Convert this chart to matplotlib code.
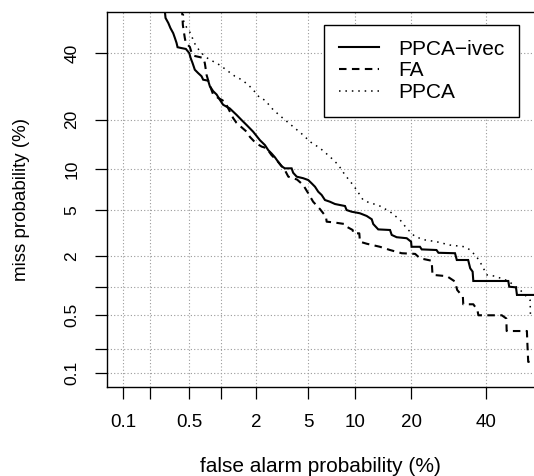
import math
import numpy as np
import matplotlib
matplotlib.use("Agg")
import matplotlib.pyplot as plt

# ---------------- data (percent) ----------------
tick_values = [0.1, 0.2, 0.5, 1, 2, 5, 10, 20, 40]
x_tick_labels = ["0.1", "", "0.5", "", "2", "5", "10", "20", "40"]
y_tick_labels = ["0.1", "", "0.5", "", "2", "5", "10", "20", "40"]

series_names = ["PPCA\u2212ivec", "FA", "PPCA"]

ppca_ivec_fa = [0.283, 0.29, 0.31, 0.326, 0.348, 0.362, 0.376, 0.385, 0.422, 0.466,
                0.503, 0.519, 0.542, 0.570, 0.614, 0.661, 0.685, 0.763, 0.791, 0.849,
                0.914, 0.977, 1.047, 1.20, 1.376, 1.52, 1.676, 1.90, 2.16, 2.37,
                2.52, 2.67, 2.84, 3.01, 3.19, 3.38, 3.80, 3.90, 4.14, 4.61,
                5.0, 5.28, 5.57, 5.86, 6.18, 6.50, 7.01, 7.55, 8.11, 8.73,
                8.93, 9.58, 10.73, 11.74, 12.53, 12.78, 13.61, 15.72, 16.04, 17.0,
                19.06, 20.0, 20.1, 22.0, 22.4, 26.0, 26.5, 30.9, 31.4, 34.6,
                35.2, 35.9, 36.1, 46.7, 47.0, 49.1, 49.4, 54.7]
ppca_ivec_miss = [56.0, 52.4, 50.6, 48.8, 47.0, 45.3, 43.6, 42.1, 41.8, 41.5,
                  40.1, 38.4, 36.7, 34.5, 33.4, 32.4, 31.3, 31.0, 29.3, 27.8,
                  26.8, 25.3, 23.9, 22.9, 21.2, 19.9, 18.7, 17.15, 15.3, 14.3,
                  13.3, 12.7, 12.0, 11.2, 10.5, 10.15, 10.15, 9.47, 8.90, 8.68,
                  8.43, 7.99, 7.55, 6.94, 6.56, 6.01, 5.83, 5.60, 5.50, 5.40,
                  5.02, 4.87, 4.73, 4.50, 4.23, 3.86, 3.48, 3.44, 3.12, 2.98,
                  2.92, 2.72, 2.45, 2.45, 2.32, 2.29, 2.16, 2.14, 1.85, 1.85,
                  1.54, 1.43, 1.155, 1.155, 1.01, 0.995, 0.83, 0.83]

fa_fa = [0.426, 0.435, 0.455, 0.466, 0.51, 0.528, 0.55, 0.637, 0.685, 0.71,
         0.738, 0.776, 0.845, 0.944, 1.014, 1.087, 1.284, 1.376, 1.676, 1.786,
         2.0, 2.23, 2.44, 2.67, 3.01, 3.38, 3.59, 4.16, 4.61, 5.0,
         5.41, 6.02, 6.60, 6.67, 7.37, 8.73, 8.93, 9.72, 9.80, 10.64,
         10.73, 11.74, 13.9, 15.72, 18.0, 20.9, 22.0, 24.8, 25.0, 28.7,
         30.9, 31.5, 33.1, 33.2, 36.1, 37.3, 37.6, 44.7, 46.1, 46.2,
         52.5, 52.6, 52.9, 54.7]
fa_miss = [56.0, 49.9, 45.3, 43.6, 42.2, 40.4, 39.2, 38.7, 38.4, 36.7,
           32.8, 30.3, 27.0, 25.8, 25.3, 24.7, 20.4, 19.2, 17.15, 16.0,
           14.7, 14.0, 13.7, 12.4, 11.2, 9.9, 8.9, 8.5, 7.77, 6.76,
           5.83, 5.11, 4.44, 4.04, 3.99, 3.86, 3.67, 3.44, 3.22, 3.22,
           2.72, 2.61, 2.45, 2.29, 2.14, 2.11, 1.92, 1.82, 1.33, 1.29,
           1.14, 0.935, 0.795, 0.66, 0.66, 0.572, 0.50, 0.50, 0.46, 0.331,
           0.331, 0.26, 0.14, 0.14]

ppca_fa = [0.435, 0.445, 0.491, 0.53, 0.55, 0.592, 0.637, 0.71, 0.791, 0.914,
           1.014, 1.16, 1.33, 1.52, 1.73, 1.90, 2.16, 2.37, 2.76, 3.29,
           3.90, 4.61, 5.14, 6.02, 7.01, 7.93, 8.73, 9.58, 10.26, 11.2,
           12.25, 13.57, 15.72, 17.7, 19.06, 20.9, 23.2, 26.0, 29.5, 33.7,
           35.2, 37.1, 38.6, 40.1, 42.6, 46.7, 50.4, 53.5, 53.6]
ppca_miss = [56.0, 50.6, 48.2, 46.5, 44.2, 42.4, 40.7, 39.0, 37.8, 36.7,
             35.6, 34.0, 32.4, 31.3, 29.7, 28.2, 25.8, 25.2, 22.5, 20.3,
             18.3, 16.4, 15.0, 13.7, 12.1, 10.7, 9.15, 8.0, 7.15, 6.01,
             5.7, 5.5, 4.87, 4.17, 3.55, 3.01, 2.82, 2.72, 2.54, 2.45,
             2.29, 1.98, 1.66, 1.33, 1.29, 1.155, 0.935, 0.73, 0.50]

x_limits = (0.0645, 54.7)
y_limits = (0.0666, 54.6)

# ---------------- normal deviate (probit) scale ----------------
_a = [-3.969683028665376e+01, 2.209460984245205e+02, -2.759285104469687e+02,
      1.383577518672690e+02, -3.066479806614716e+01, 2.506628277459239e+00]
_b = [-5.447609879822406e+01, 1.615858368580409e+02, -1.556989798598866e+02,
      6.680131188771972e+01, -1.328068155288572e+01]
_c = [-7.784894002430293e-03, -3.223964580411365e-01, -2.400758277161838e+00,
      -2.549671627481868e+00, 4.374664141464968e+00, 2.938163982698783e+00]
_d = [7.784695709041462e-03, 3.224671290700398e-01, 2.445134137142996e+00,
      3.754408661907416e+00]
_erf = np.vectorize(math.erf, otypes=[float])


def _norm_cdf(z):
    z = np.asarray(z, dtype=float)
    if z.size == 0:
        return z.copy()
    return 0.5 * (1.0 + _erf(z / math.sqrt(2.0)))


def _norm_ppf(p):
    p = np.clip(np.asarray(p, dtype=float), 1e-12, 1 - 1e-12)
    if p.size == 0:
        return p.copy()
    scalar = p.ndim == 0
    p = np.atleast_1d(p)
    out = np.empty_like(p)
    plow = 0.02425
    lo = p < plow
    hi = p > 1 - plow
    mid = ~(lo | hi)
    q = np.sqrt(-2 * np.log(p[lo]))
    out[lo] = (((((_c[0]*q+_c[1])*q+_c[2])*q+_c[3])*q+_c[4])*q+_c[5]) / \
              ((((_d[0]*q+_d[1])*q+_d[2])*q+_d[3])*q+1)
    q = np.sqrt(-2 * np.log(1 - p[hi]))
    out[hi] = -(((((_c[0]*q+_c[1])*q+_c[2])*q+_c[3])*q+_c[4])*q+_c[5]) / \
              ((((_d[0]*q+_d[1])*q+_d[2])*q+_d[3])*q+1)
    q = p[mid] - 0.5
    r = q * q
    out[mid] = (((((_a[0]*r+_a[1])*r+_a[2])*r+_a[3])*r+_a[4])*r+_a[5])*q / \
               (((((_b[0]*r+_b[1])*r+_b[2])*r+_b[3])*r+_b[4])*r+1)
    e = _norm_cdf(out) - p
    u = e * math.sqrt(2 * math.pi) * np.exp(out * out / 2)
    out = out - u / (1 + out * u / 2)
    return out[0] if scalar else out


def fwd(v):
    return _norm_ppf(np.asarray(v, dtype=float) / 100.0)


def inv(z):
    return 100.0 * _norm_cdf(z)


# ---------------- figure ----------------
plt.rcParams["font.family"] = ["Liberation Sans", "DejaVu Sans"]

W, H = 534, 476
fig = plt.figure(figsize=(W / 100, H / 100), dpi=100)
left, right, top, bottom = 106.7, 534.0, 11.7, 386.7
ax = fig.add_axes([left / W, 1 - bottom / H, (right - left) / W, (bottom - top) / H])

ax.set_xscale("function", functions=(fwd, inv))
ax.set_yscale("function", functions=(fwd, inv))

ax.plot(ppca_ivec_fa, ppca_ivec_miss, color="black", lw=1.5, linestyle="-",
        label=series_names[0], solid_joinstyle="miter")
ax.plot(fa_fa, fa_miss, color="black", lw=1.5, linestyle=(0, (3.6, 2.6)),
        label=series_names[1])
ax.plot(ppca_fa, ppca_miss, color="black", lw=1.1, linestyle=(0, (1, 3.2)),
        label=series_names[2])

ax.set_xlim(*x_limits)
ax.set_ylim(*y_limits)

ax.set_xticks(tick_values)
ax.set_xticklabels(x_tick_labels)
ax.set_yticks(tick_values)
ax.set_yticklabels(y_tick_labels, rotation=90, va="center")
ax.minorticks_off()

ax.tick_params(axis="both", direction="out", length=8.6, width=0.9, color="black")
ax.tick_params(axis="x", labelsize=13.5, pad=11)
ax.tick_params(axis="y", labelsize=12.5, pad=11)

ax.grid(True, color="#9a9a9a", linestyle=(0, (1, 2)), linewidth=0.8)
ax.set_axisbelow(True)

for s in ("left", "bottom", "top"):
    ax.spines[s].set_linewidth(1.0)
    ax.spines[s].set_color("black")
ax.spines["right"].set_visible(False)

ax.set_xlabel("false alarm probability (%)", fontsize=15, va="center")
ax.xaxis.set_label_coords(0.5, 1 - (466.7 - top) / (bottom - top))
ax.set_ylabel("miss probability (%)", fontsize=13.5, va="center")
ax.yaxis.set_label_coords((21.7 - left) / (right - left), 0.5)

leg = ax.legend(loc="upper right",
                bbox_to_anchor=((519 - left) / (right - left), 1 - (25 - top) / (bottom - top)),
                frameon=True, fancybox=False, edgecolor="black", framealpha=1,
                fontsize=15, handlelength=1.95, handletextpad=0.9,
                borderpad=0.7, labelspacing=0.13, borderaxespad=0)
leg.get_frame().set_linewidth(1.0)

fig.savefig("out.png", dpi=100)
